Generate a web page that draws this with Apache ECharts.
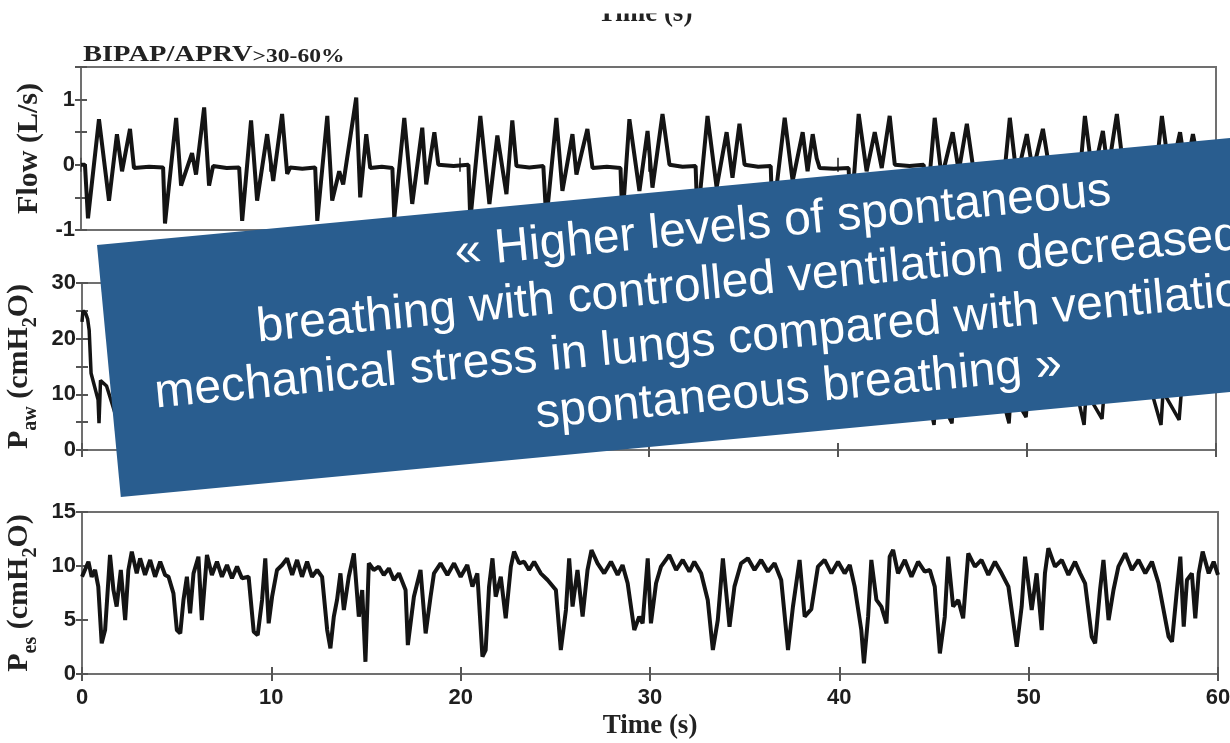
<!DOCTYPE html>
<html><head><meta charset="utf-8">
<script src="https://cdn.jsdelivr.net/npm/echarts@6/dist/echarts.min.js"></script>
<style>html,body{margin:0;padding:0;background:#fff}#c{width:1230px;height:743px}</style>
</head><body><div id="c"></div>
<script>
// ---- data (time in s, value) ----
const flowData = [
[0,0],[0.21,0],[0.37,-0.82],[0.95,0.7],[1.48,-0.55],[1.9,0.47],[2.17,-0.1],[2.59,0.55],[2.8,-0.05],[3.6,-0.03],[4.34,-0.04],
[4.44,-0.9],[5.03,0.72],[5.29,-0.32],[5.87,0.18],[6.08,-0.15],[6.51,0.88],[6.77,-0.32],[6.98,-0.02],[7.7,-0.05],[8.36,-0.04],
[8.52,-0.86],[8.99,0.68],[9.31,-0.55],[9.84,0.47],[10.16,-0.25],[10.63,0.78],[10.9,-0.14],[11.06,-0.04],[11.7,-0.06],[12.38,-0.04],
[12.49,-0.86],[13.02,0.75],[13.28,-0.55],[13.65,-0.1],[13.86,-0.3],[14.55,1.03],[14.76,-0.5],[15.08,0.47],[15.29,-0.05],[15.9,-0.03],[16.46,-0.05],
[16.56,-0.82],[17.09,0.72],[17.51,-0.6],[18.04,0.57],[18.25,-0.3],[18.68,0.5],[18.89,0],[19.7,-0.02],[20.48,0],
[20.58,-0.85],[21.11,0.75],[21.59,-0.6],[22.01,0.45],[22.49,-0.45],[22.8,0.68],[23.02,-0.02],[23.7,-0.04],[24.44,-0.02],
[24.6,-0.85],[25.13,0.72],[25.45,-0.4],[25.98,0.47],[26.19,-0.15],[26.77,0.55],[27.04,-0.05],[27.8,-0.03],[28.52,-0.05],
[28.62,-0.85],[28.99,0.7],[29.52,-0.4],[29.95,0.52],[30.21,-0.35],[30.74,0.78],[31.11,0],[31.8,-0.03],[32.49,-0.02],
[32.59,-0.85],[33.12,0.75],[33.6,-0.35],[34.13,0.5],[34.44,-0.2],[34.81,0.63],[35.08,0],[35.8,-0.03],[36.46,-0.02],
[36.56,-0.85],[37.2,0.72],[37.62,-0.25],[38.15,0.5],[38.41,-0.1],[38.68,0.47],[38.89,0.1],[39.05,-0.05],[39.8,-0.06],[40.58,-0.05],
[40.69,-0.85],[41.11,0.78],[41.53,-0.1],[41.96,0.5],[42.33,-0.05],[42.75,0.75],[43.02,0],[43.8,-0.02],[44.55,0],
[44.66,-0.85],[45.13,0.72],[45.5,-0.2],[46.08,0.5],[46.4,-0.1],[46.83,0.63],[47.14,0],[47.8,-0.02],[48.47,0],
[48.57,-0.85],[49.1,0.72],[49.47,-0.2],[50,0.47],[50.32,-0.1],[50.85,0.55],[51.16,0],[51.8,-0.02],[52.49,0],
[52.59,-0.85],[53.07,0.75],[53.49,-0.2],[54.02,0.52],[54.29,-0.1],[54.76,0.78],[55.08,0],[55.8,-0.02],[56.46,0],
[56.56,-0.85],[57.14,0.75],[57.57,-0.2],[58.1,0.5],[58.41,-0.1],[58.78,0.47],[59.1,0],[60,0]
];
const pawData = [
[0,23],[0.05,25],[0.2,24.5],[0.3,23.5],[0.38,21.5],[0.48,13.8],[0.62,12],[0.85,9],[0.9,4.8],[0.98,12.5],[1.3,11.5],[1.85,5.5],[1.95,10.5],[2.5,10.5],[2.6,24],[4.4,24],
[4.47,10.5],[4.95,5],[5.08,10.5],[5.82,6],[5.92,10.5],[6.45,10.5],[6.55,24],[8.47,24],
[8.55,10.5],[8.94,5],[9.05,10.5],[9.79,5.5],[9.9,10.5],[10.55,10.5],[10.66,24],[12.45,24],
[12.52,10.5],[12.97,5],[13.08,10.5],[14.5,5],[14.6,10.5],[15.03,10.5],[15.12,24],[16.52,24],
[16.59,10.5],[17.04,5],[17.15,10.5],[17.99,5.5],[18.1,10.5],[18.63,10.5],[18.72,24],[20.55,24],
[20.61,10.5],[21.06,5],[21.17,10.5],[21.96,5.5],[22.07,10.5],[22.75,10.5],[22.84,24],[24.57,24],
[24.63,10.5],[25.08,5],[25.19,10.5],[25.93,5.5],[26.04,10.5],[26.72,10.5],[26.81,24],[28.59,24],
[28.65,10.5],[28.94,5],[29.05,10.5],[29.9,5.5],[30.01,10.5],[30.69,10.5],[30.78,24],[32.56,24],
[32.62,10.5],[33.07,5],[33.18,10.5],[34.08,5.5],[34.19,10.5],[34.76,10.5],[34.85,24],[36.53,24],
[36.59,10.5],[37.15,5],[37.26,10.5],[38.1,5.5],[38.21,10.5],[38.63,10.5],[38.72,24],[40.66,24],
[40.72,10.5],[41.06,4.5],[41.17,10.5],[41.91,5],[42.02,10.5],[42.7,10.5],[42.79,24],[44.63,24],
[44.69,10.5],[45.08,4.5],[45.19,10.5],[46.03,4.8],[46.14,10.5],[46.78,10.5],[46.87,24],[48.54,24],
[48.6,10.5],[49.05,4.8],[49.16,10.5],[49.95,5.9],[50.06,10.5],[50.8,10.5],[50.89,24],[52.56,24],
[52.62,10.5],[53.02,4.5],[53.13,10.5],[53.97,5.6],[54.08,10.5],[54.71,10.5],[54.8,24],[56.53,24],
[56.59,10.5],[57.09,4.5],[57.2,10.5],[58.05,5.4],[58.16,10.2],[58.73,10.2],[58.82,24],[60,24]
];
const pesData = [
[0,9.01],[0.34,10.4],[0.51,9.0],[0.69,9.63],[0.86,8.09],[1.04,2.84],[1.22,4.07],[1.48,11.02],[1.66,7.78],[1.83,6.24],[2.05,9.63],[2.28,4.99],[2.45,9.63],[2.63,11.33],[2.89,9.32],[3.07,10.71],[3.33,9.17],[3.6,10.56],[3.86,9.0],[4.13,10.4],[4.39,9.17],
[4.57,9.0],[4.83,7.47],[5.01,4.07],[5.19,3.76],[5.36,6.86],[5.54,9.0],[5.71,5.62],[5.89,9.32],[6.15,10.86],[6.33,4.99],[6.6,11.02],[6.86,9.17],[7.13,10.4],[7.39,9.0],[7.66,10.09],[7.92,8.86],[8.19,9.94],[8.45,8.86],
[8.8,9.0],[9.07,3.91],[9.28,3.6],[9.51,6.86],[9.68,10.71],[9.86,4.69],[10.04,7.16],[10.3,9.63],[10.57,10.09],[10.83,10.71],[11.1,9.17],[11.36,10.56],[11.62,9.0],[11.89,10.4],[12.15,9.0],[12.42,9.63],[12.68,9.0],
[12.95,4.07],[13.12,2.38],[13.3,5.31],[13.47,6.86],[13.65,9.32],[13.83,5.93],[14.09,9.0],[14.36,11.17],[14.62,5.31],[14.8,7.78],[14.97,1.13],[15.15,10.25],[15.41,9.63],[15.68,9.94],[15.94,9.17],[16.21,9.78],[16.47,8.7],[16.74,9.32],
[17.09,7.78],[17.21,2.68],[17.53,7.16],[17.88,9.63],[18.15,3.76],[18.41,7.16],[18.59,9.32],[18.94,10.25],[19.3,9.17],[19.65,10.25],[20.0,9.0],[20.35,10.09],[20.62,8.09],[20.88,9.32],
[21.15,1.6],[21.32,2.22],[21.5,8.09],[21.68,10.71],[21.85,7.16],[22.12,9.0],[22.38,5.16],[22.65,9.94],[22.82,11.33],[23.09,10.25],[23.35,10.4],[23.61,9.63],[23.88,10.4],[24.23,9.32],[24.59,8.7],
[25.03,7.78],[25.29,2.22],[25.56,5.93],[25.73,10.71],[25.91,6.24],[26.17,9.63],[26.44,5.31],[26.7,9.63],[26.91,11.48],[27.23,10.25],[27.58,9.32],[27.94,10.4],[28.29,9.17],[28.55,10.09],[28.82,8.4],
[29.17,4.07],[29.43,5.31],[29.61,4.69],[29.88,10.71],[30.05,4.69],[30.32,8.4],[30.58,9.94],[31.02,11.02],[31.38,9.63],[31.73,10.56],[32.08,9.48],[32.34,10.4],[32.7,9.32],
[33.05,6.86],[33.32,2.22],[33.58,4.99],[33.85,10.71],[34.2,4.38],[34.46,8.09],[34.81,10.25],[35.17,10.71],[35.52,9.63],[35.87,10.56],[36.23,9.48],[36.58,10.25],[36.93,8.7],
[37.29,2.22],[37.55,6.24],[37.9,10.56],[38.17,5.31],[38.52,6.0],[38.87,9.94],[39.22,10.56],[39.58,9.32],[39.93,10.4],[40.28,9.32],[40.55,10.09],[40.81,8.09],
[41.16,4.07],[41.3,0.99],[41.52,5.31],[41.69,10.56],[41.96,6.86],[42.22,6.24],[42.49,4.69],[42.66,10.86],[42.84,11.48],[43.1,9.32],[43.46,10.56],[43.81,9.0],[44.16,10.4],[44.51,9.48],[44.78,9.63],[45.04,8.09],
[45.31,1.91],[45.57,5.31],[45.75,10.86],[46.01,6.24],[46.28,6.86],[46.54,5.16],[46.81,11.17],[47.16,9.94],[47.51,10.56],[47.87,9.17],[48.22,10.4],[48.57,9.32],[48.93,8.09],
[49.37,2.53],[49.63,6.24],[49.81,10.86],[50.16,5.93],[50.42,9.32],[50.69,4.07],[50.86,9.32],[51.04,11.64],[51.39,9.94],[51.75,10.56],[52.1,9.17],[52.45,10.4],[52.72,9.32],[52.98,8.4],
[53.33,3.45],[53.51,2.84],[53.77,7.78],[53.95,10.56],[54.22,4.99],[54.48,7.78],[54.74,9.94],[55.1,11.17],[55.45,9.63],[55.8,10.56],[56.16,9.32],[56.51,10.4],[56.86,8.4],
[57.39,3.45],[57.57,2.99],[57.83,7.78],[58.01,10.86],[58.19,4.38],[58.36,8.7],[58.62,9.32],[58.8,5.16],[58.98,9.32],[59.19,11.33],[59.51,9.32],[59.77,10.4],[60,9.17]
];
const timeTicks = [0, 10, 20, 30, 40, 50, 60];
const flowLabels = ['-1', '0', '1'];
const pawLabels = ['0', '10', '20', '30'];
const pesLabels = ['0', '5', '10', '15'];
const titleMain = 'BIPAP/APRV';
const titleSub = '>30-60%';
const quoteLines = [
  '\u00ab Higher levels of spontaneous',
  'breathing with controlled ventilation decreased the',
  'mechanical stress in lungs compared with ventilation without',
  'spontaneous breathing \u00bb'
];

const chart = echarts.init(document.getElementById('c'), null, {renderer: 'canvas'});
const FRAME = '#707070';
const TICK = '#555';
const LBL = {fontFamily: '"Liberation Sans", Arial, sans-serif', fontWeight: 'bold', fontSize: 22, color: '#1e1e1e'};
const NAMEFONT = '"Liberation Serif", "Times New Roman", serif';

const grids = [
  {left: 81, top: 67, width: 1135, height: 163},
  {left: 82, top: 283, width: 1134, height: 167},
  {left: 82, top: 512, width: 1136, height: 162}
].map(g => Object.assign(g, {show: true, borderColor: FRAME, borderWidth: 2, backgroundColor: 'transparent',
                              containLabel: false, outerBoundsMode: 'none'}));

function xAx(i, pos, withLabels) {
  return {
    type: 'value', gridIndex: i, position: pos, min: timeTicks[0], max: timeTicks[timeTicks.length - 1], interval: 10,
    axisLine: {show: false}, splitLine: {show: false},
    axisTick: {show: true, inside: true, length: 7, lineStyle: {color: TICK, width: 2}},
    axisLabel: withLabels ? Object.assign({show: true, margin: 13, formatter: v => timeTicks.includes(v) ? String(v) : ''}, LBL) : {show: false},
    name: withLabels ? 'Time (s)' : '', nameLocation: 'middle', nameGap: 39,
    nameTextStyle: {fontFamily: NAMEFONT, fontWeight: 'bold', fontSize: 27, color: '#222'}
  };
}
function yAx(i, pos, min, max, interval, labels, name, nameGap, rich) {
  const left = pos === 'left';
  return {
    type: 'value', gridIndex: i, position: pos, min, max, interval,
    axisLine: {show: false}, splitLine: {show: false},
    axisTick: {show: true, inside: true, length: 6, lineStyle: {color: TICK, width: 2}},
    axisLabel: left ? Object.assign({show: true, margin: 6, formatter: v => labels.includes(String(v)) ? String(v) : ''}, LBL) : {show: false},
    name: left ? name : '', nameLocation: 'middle', nameRotate: 90, nameGap: nameGap,
    nameTextStyle: Object.assign({fontFamily: NAMEFONT, fontWeight: 'bold', fontSize: 30, color: '#222'}, rich ? {rich} : {})
  };
}
const subRich = {
  m: {fontFamily: NAMEFONT, fontWeight: 'bold', fontSize: 30, color: '#222', lineHeight: 42, verticalAlign: 'middle'},
  s: {fontFamily: NAMEFONT, fontWeight: 'bold', fontSize: 20, color: '#222', lineHeight: 20, verticalAlign: 'bottom'}
};

const option = {
  animation: false,
  backgroundColor: '#fff',
  grid: grids,
  xAxis: [xAx(0, 'bottom', false), xAx(0, 'top', false), xAx(1, 'bottom', false), xAx(1, 'top', false), xAx(2, 'bottom', true), xAx(2, 'top', false)],
  yAxis: [
    yAx(0, 'left', -1, 1.5, 0.5, flowLabels, 'Flow (L/s)', 37),
    yAx(0, 'right', -1, 1.5, 0.5, flowLabels, '', 0),
    yAx(1, 'left', 0, 30, 5, pawLabels, '{m|P}{s|aw}{m| (cmH}{s|2}{m|O)}', 32, subRich),
    yAx(1, 'right', 0, 30, 5, pawLabels, '', 0),
    yAx(2, 'left', 0, 15, 5, pesLabels, '{m|P}{s|es}{m| (cmH}{s|2}{m|O)}', 32, subRich),
    yAx(2, 'right', 0, 15, 5, pesLabels, '', 0)
  ],
  series: [
    {type: 'line', xAxisIndex: 0, yAxisIndex: 0, data: flowData, showSymbol: false, lineStyle: {color: '#141414', width: 4}, z: 3},
    {type: 'line', xAxisIndex: 2, yAxisIndex: 2, data: pawData, showSymbol: false, lineStyle: {color: '#141414', width: 3.5}, z: 3},
    {type: 'line', xAxisIndex: 4, yAxisIndex: 4, data: pesData, showSymbol: false, lineStyle: {color: '#141414', width: 4}, z: 3}
  ],
  graphic: [
    {type: 'text', x: 645, y: 14.5, z: 50,
     style: {text: 'Time (s)', font: 'bold 27px "Liberation Serif", serif', fill: '#222', align: 'center', verticalAlign: 'middle'}},
    {type: 'rect', z: 60, shape: {x: 0, y: 0, width: 1230, height: 13.5}, style: {fill: '#fff'}},
    {type: 'text', x: 83, y: 55, scaleX: 1.24, z: 50,
     style: {text: '{a|' + titleMain + '}{b|' + titleSub + '}', verticalAlign: 'middle',
       rich: {a: {fontFamily: NAMEFONT, fontWeight: 'bold', fontSize: 23, fill: '#222', verticalAlign: 'bottom', lineHeight: 24},
              b: {fontFamily: NAMEFONT, fontWeight: 'bold', fontSize: 19, fill: '#222', verticalAlign: 'bottom', lineHeight: 20}}}},
    {type: 'group', x: 97, y: 245, rotation: 0.0942, z: 100,
     children: [
       {type: 'rect', z: 100, shape: {x: 0, y: 0, width: 1400, height: 253}, style: {fill: '#295d8f'}},
       {type: 'text', z: 101, x: 685, y: 126,
        style: {text: quoteLines.join('\n'), font: '48px "Liberation Sans", Arial, sans-serif', fill: '#ffffff',
                align: 'center', verticalAlign: 'middle', lineHeight: 56}}
     ]}
  ]
};
chart.setOption(option);
</script>
</body></html>
